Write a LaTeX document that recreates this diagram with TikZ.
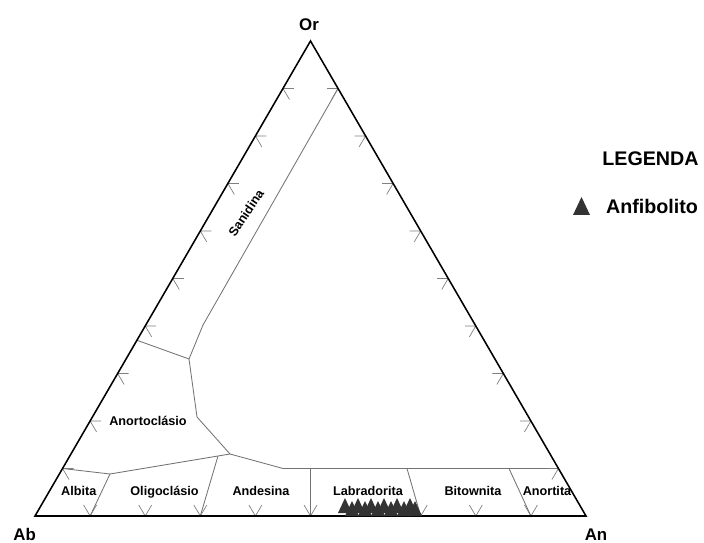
\documentclass[tikz,border=0pt]{standalone}
\usepackage{fontspec}
\setmainfont{Liberation Sans}
\usetikzlibrary{calc}

\begin{document}
\begin{tikzpicture}[x=0.025cm, y=-0.025cm,
        bound/.style={draw=black!55, line width=0.6pt},
        grad/.style={draw=black!50, line width=0.5pt},
        field/.style={font=\bfseries\fontsize{9}{10}\selectfont, anchor=base, inner sep=0pt},
        corner/.style={font=\bfseries\fontsize{12}{14}\selectfont, anchor=base, inner sep=0pt},
        legtext/.style={font=\bfseries\fontsize{14}{16}\selectfont, anchor=base, inner sep=0pt},
        sample/.style={fill=black!80}]
        \useasboundingbox (0,0) rectangle (704,543);

        % Vertices of the diagram
        \coordinate (Ab) at (35,516);
        \coordinate (An) at (586,516);
        \coordinate (Or) at (310.5,41);

        % Field boundaries (grey lines)
        \coordinate (s1) at ($(An)!0.9!(Or)$); % top of Sanidina line
        \coordinate (s2) at (203,325);
        \coordinate (j1) at (189,359);         % triple junction
        \coordinate (k1) at ($(Ab)!0.37!(Or)$);
        \coordinate (j3) at (197,417);
        \coordinate (j2) at (230,454);         % lower junction
        \coordinate (h1) at (283,468.5);
        \coordinate (h2) at ($(An)!0.1!(Or)$);
        \coordinate (a0) at ($(Ab)!0.1!(Or)$);
        \coordinate (a1) at (110,474);
        \coordinate (a2) at (218,456);
        \coordinate (c5) at (310.5,468.5);
        \coordinate (c7) at (407,468.5);
        \coordinate (c9) at (509,468.5);

        \draw[bound] (s1) -- (s2) -- (j1) -- (j3) -- (j2) -- (h1) -- (h2);
        \draw[bound] (j1) -- (k1);
        \draw[bound] (a0) -- (a1) -- (a2) -- (j2);
        \draw[bound] (a1) -- ($(Ab)!0.1!(An)$);  % Albita / Oligoclasio
        \draw[bound] (a2) -- ($(Ab)!0.3!(An)$);  % Oligoclasio / Andesina
        \draw[bound] (c5) -- ($(Ab)!0.5!(An)$);  % Andesina / Labradorita
        \draw[bound] (c7) -- ($(Ab)!0.7!(An)$);  % Labradorita / Bitownita
        \draw[bound] (c9) -- ($(Ab)!0.9!(An)$);  % Bitownita / Anortita

        % Tick marks every 10 %
        \foreach \i in {1,...,9} {
            \draw[grad] ($(Ab)!0.1*\i!(Or)$) -- ++(11,0) ($(Ab)!0.1*\i!(Or)$) -- ++(6.5,11);
            \draw[grad] ($(An)!0.1*\i!(Or)$) -- ++(-11,0) ($(An)!0.1*\i!(Or)$) -- ++(-6.5,11);
            \draw[grad] ($(Ab)!0.1*\i!(An)$) -- ++(-6.5,-11) ($(Ab)!0.1*\i!(An)$) -- ++(6.5,-11);
        }

        % Outer triangle
        \draw[line width=1.1pt] (Ab) -- (An) -- (Or) -- cycle;

        % Vertex labels
        \node[corner] (lOr) at (309,30.7) {Or};
        \node[corner] (lAb) at (24.7,540.5) {Ab};
        \node[corner] (lAn) at (596,540.5) {An};

        % Field names
        \node[field, anchor=center, rotate=56] (sani) at (246,213) {Sanidina};
        \node[field] (anort) at (148,425.7) {Anortoclásio};
        \node[field] (albi) at (78.8,495.7) {Albita};
        \node[field] (olig) at (164.5,495.7) {Oligoclásio};
        \node[field] (ande) at (261,495.7) {Andesina};
        \node[field] (labr) at (368,495.3) {Labradorita};
        \node[field] (bito) at (473,495.7) {Bitownita};
        \node[field] (anor) at (547,495.7) {Anortita};

        % Samples (Anfibolito)
        \foreach \x/\y in {345/513, 358/513, 371/513, 384/513, 397/513, 410/513,
                           352/516, 365/516, 378/516, 391/516, 404/516, 415/516}
            \fill[sample] (\x-7,\y) -- (\x+7,\y) -- (\x,\y-15) -- cycle;

        % Legend
        \node[legtext] (leg) at (650.5,165.7) {LEGENDA};
        \fill[sample] (573,215) -- (590,215) -- (581.5,197) -- cycle;
        \node[legtext] (anf) at (652,213.3) {Anfibolito};

\end{tikzpicture}
\end{document}
